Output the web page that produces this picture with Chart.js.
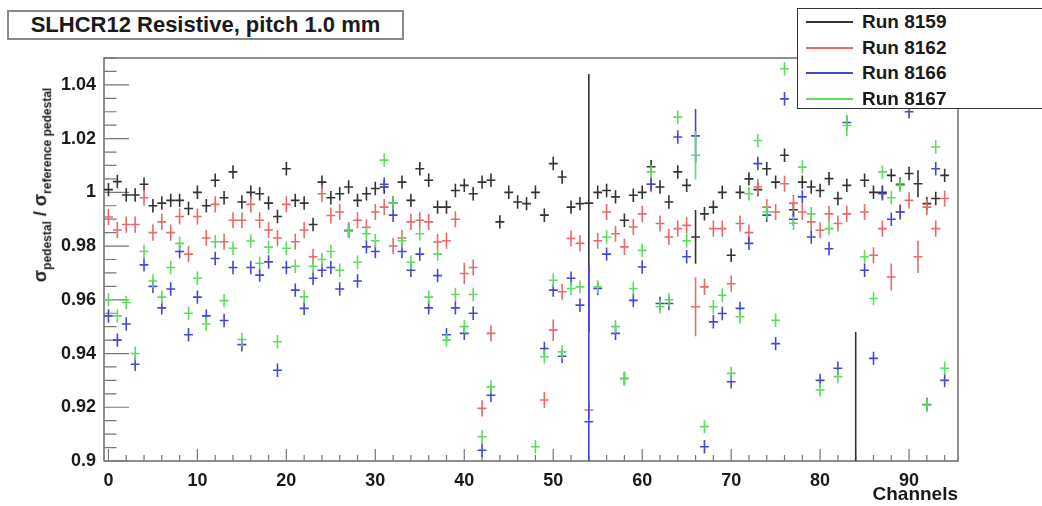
<!DOCTYPE html>
<html>
<head>
<meta charset="utf-8">
<script src="https://cdn.jsdelivr.net/npm/chart.js@4.4.1/dist/chart.umd.min.js"></script>
<style>
body{margin:0;background:#fff;font-family:"Liberation Sans",Arial,sans-serif;}
#wrap{position:relative;width:1042px;height:506px;overflow:hidden;}
#titre{position:absolute;left:7px;top:10px;width:393px;height:26px;border:2px solid #8a8a8a;background:#fff;
  font-weight:bold;font-size:22px;line-height:26px;text-align:center;color:#1a1a1a;white-space:nowrap;}
#legende{position:absolute;left:797px;top:8px;width:270px;height:99px;border:1.5px solid #333;background:#fff;}
.ligne{position:absolute;left:0;height:25px;width:270px;}
.ligne span.trait{position:absolute;left:8px;top:12px;width:47px;height:2px;}
.ligne span.nom{position:absolute;left:64px;top:0;font-weight:bold;font-size:19px;line-height:25px;color:#1a1a1a;}
#titreY{position:absolute;left:42px;top:185px;transform:translate(-50%,-50%) rotate(-90deg);white-space:nowrap;
  font-weight:bold;font-size:18px;color:#1a1a1a;}
#titreY sub{font-size:12px;}
</style>
</head>
<body>
<div id="wrap">
  <canvas id="graphe" width="1042" height="506"></canvas>
  <div id="titre">SLHCR12 Resistive, pitch 1.0 mm</div>
  <div id="titreY">&sigma;<sub>pedestal</sub> / &sigma;<sub>reference pedestal</sub></div>
  <div id="legende"></div>
</div>
<script>
// numeros des canaux
const canaux = Array.from({length: 95}, (_, i) => i);

// rapports sigma / sigma reference (null = hors cadre)
const run8159 = [1.001,1.004,0.999,0.999,1.003,0.995,0.996,0.997,0.997,0.994,
  1.000,0.995,1.0045,0.998,1.0076,0.9964,1.000,0.9995,0.996,0.991,
  1.0088,0.997,0.996,0.988,1.0038,0.998,0.9995,1.002,0.997,0.9995,
  1.0014,1.002,0.996,1.0038,0.997,1.0088,1.0045,0.9945,0.9945,1.0007,
  1.0026,0.9995,1.0038,1.0045,0.989,1.000,0.9964,0.9958,1.000,0.9915,
  1.0107,1.0057,0.9945,0.9958,0.996,1.000,1.0007,0.9983,0.9896,0.9989,
  1.000,1.0095,1.002,0.9964,1.0076,1.0026,0.9834,0.992,0.9945,1.000,
  0.9766,1.000,1.005,1.001,1.0088,1.0038,1.0138,0.9935,1.0038,1.002,
  1.0007,1.0051,0.9977,1.0026,0.89,1.0045,1.000,1.000,1.0063,1.003,
  1.007,1.0032,0.9958,0.9977,1.0063];
const run8162 = [0.9908,0.986,0.988,0.988,0.998,0.985,0.989,0.985,0.991,0.977,
  0.991,0.983,0.9955,0.9816,0.9896,0.9896,0.9955,0.9896,0.986,0.983,
  0.9955,0.9816,0.986,0.976,0.9995,0.9914,0.9927,0.986,0.9896,0.987,
  0.9927,0.9945,0.980,0.983,0.989,0.9896,0.989,0.9815,0.982,0.990,
  0.9698,0.972,0.9196,0.9475,null,null,null,null,null,0.9227,
  0.9487,0.963,0.9828,0.981,0.919,0.982,0.9927,0.9846,0.9797,0.9871,
  0.992,1.003,0.9884,0.9834,0.9865,0.9877,0.9574,0.9648,0.9865,0.9865,
  0.966,0.9884,0.985,1.002,0.9945,0.9927,1.0032,0.996,0.9927,0.989,
  0.9859,0.992,0.9884,0.992,null,0.9927,0.9766,0.9865,0.9685,0.9927,
  0.997,0.976,0.9945,0.9865,0.9977];
const run8166 = [0.954,0.945,0.951,0.936,0.973,0.965,0.957,0.964,0.978,0.947,
  0.961,0.954,0.9754,0.9523,0.972,0.9433,0.972,0.9692,0.9741,0.9338,
  0.972,0.9636,0.9568,0.968,0.971,0.972,0.964,0.9855,0.967,0.9797,
  0.978,1.003,0.9915,0.978,0.971,0.977,0.957,0.969,0.947,0.957,
  0.9475,0.955,0.904,0.9245,null,null,null,null,null,0.9419,
  0.9636,0.939,0.968,0.958,0.9146,0.9642,0.977,0.9475,0.9307,0.9598,
  0.9722,1.003,0.9586,0.9586,1.0206,0.976,1.021,0.9053,0.9518,0.9549,
  0.9295,0.9568,0.981,1.0107,0.9915,0.9437,1.0348,0.990,0.9983,0.9834,
  0.930,0.979,0.9345,1.026,null,0.971,0.9382,0.9995,0.990,0.9927,
  1.030,null,0.921,1.0088,0.930];
const run8167 = [0.960,0.954,0.959,0.940,0.978,0.967,0.961,0.972,0.981,0.955,
  0.968,0.951,0.9816,0.9597,0.9792,0.9452,0.9819,0.9736,0.9796,0.9444,
  0.9792,0.9725,0.9611,0.9725,0.975,0.978,0.971,0.9855,0.974,0.9846,
  0.982,1.012,0.996,0.982,0.974,0.9846,0.961,0.977,0.945,0.962,
  0.950,0.962,0.909,0.9276,null,null,null,null,0.9053,0.9388,
  0.9673,0.9406,0.9642,0.9648,null,0.9648,0.9834,0.950,0.9307,0.9642,
  0.9784,1.0076,0.9574,0.960,1.028,0.982,1.0138,0.9128,0.9574,0.9617,
  0.9326,0.9537,0.9995,1.0193,0.9927,0.9524,1.046,0.9885,1.0094,0.992,
  0.9264,0.9865,0.9314,1.0249,null,0.976,0.9605,1.0076,0.998,1.0026,
  null,null,0.9208,1.0169,0.9345];

// erreurs : valeur courante + exceptions par canal
const errCourante = {run8159: 0.0025, run8162: 0.003, run8166: 0.0025, run8167: 0.0025};
const err8159 = {54: 0.048, 66: 0.010, 84: 0.058, 91: 0.005};
const err8162 = {40: 0.004, 50: 0.004, 66: 0.011, 88: 0.005, 91: 0.006};
const err8166 = {54: 0.058, 66: 0.010};
const err8167 = {66: 0.009, 83: 0.004};

const nomsRuns = ['Run 8159', 'Run 8162', 'Run 8166', 'Run 8167'];
const couleurs = ['#333333', '#e86a6a', '#4646d6', '#5fdc5f'];

const yTicks = [0.90, 0.92, 0.94, 0.96, 0.98, 1.00, 1.02, 1.04];
const xTicks = [0, 10, 20, 30, 40, 50, 60, 70, 80, 90];

// construire les points {x, y, e}
const points = (valeurs, defaut, exceptions) =>
  canaux.map(c => ({x: c, y: valeurs[c], e: exceptions[c] !== undefined ? exceptions[c] : defaut}));

const datasets = [
  {label: nomsRuns[0], data: points(run8159, errCourante.run8159, err8159), borderColor: couleurs[0]},
  {label: nomsRuns[1], data: points(run8162, errCourante.run8162, err8162), borderColor: couleurs[1]},
  {label: nomsRuns[2], data: points(run8166, errCourante.run8166, err8166), borderColor: couleurs[2]},
  {label: nomsRuns[3], data: points(run8167, errCourante.run8167, err8167), borderColor: couleurs[3]}
];

// legende html
const legende = document.getElementById('legende');
nomsRuns.forEach((nom, i) => {
  legende.insertAdjacentHTML('beforeend',
    `<div class="ligne" style="top:${i * 25.5}px"><span class="trait" style="background:${couleurs[i]}"></span><span class="nom">${nom}</span></div>`);
});

// cadre et graduations a l'interieur, facon ROOT
const cadre = {
  id: 'cadre',
  beforeDatasetsDraw(chart) {
    const ctx = chart.ctx, a = chart.chartArea, xs = chart.scales.x, ys = chart.scales.y;
    ctx.save();
    ctx.strokeStyle = '#6a6a6a';
    ctx.lineWidth = 1.5;
    ctx.strokeRect(a.left, a.top, a.right - a.left, a.bottom - a.top);
    ctx.lineWidth = 1.2;
    ctx.strokeStyle = '#777';
    ctx.beginPath();
    for (let k = 0; k <= 30; k++) {
      const v = 0.9 + k * 0.005;
      const y = ys.getPixelForValue(v);
      const len = (k % 4 === 0) ? 25 : 12.5;
      ctx.moveTo(a.left, y); ctx.lineTo(a.left + len, y);
    }
    for (let c = 0; c <= 94; c += 2) {
      const x = xs.getPixelForValue(c);
      const len = (c % 10 === 0) ? 12 : 6;
      ctx.moveTo(x, a.bottom); ctx.lineTo(x, a.bottom - len);
    }
    ctx.stroke();
    ctx.restore();
  }
};

// croix : barre horizontale = largeur du canal, barre verticale = erreur
const croix = {
  id: 'croix',
  afterDatasetsDraw(chart) {
    const ctx = chart.ctx, a = chart.chartArea, xs = chart.scales.x, ys = chart.scales.y;
    ctx.save();
    ctx.beginPath();
    ctx.rect(a.left, a.top, a.right - a.left, a.bottom - a.top);
    ctx.clip();
    ctx.lineWidth = 1.6;
    chart.data.datasets.forEach(ds => {
      ctx.strokeStyle = ds.borderColor;
      ds.data.forEach(p => {
        if (p.y === null) return;
        const xg = xs.getPixelForValue(p.x - 0.5), xd = xs.getPixelForValue(p.x + 0.5), xc = xs.getPixelForValue(p.x);
        const yc = ys.getPixelForValue(p.y), yh = ys.getPixelForValue(p.y + p.e), yb = ys.getPixelForValue(p.y - p.e);
        ctx.beginPath();
        ctx.moveTo(xg, yc); ctx.lineTo(xd, yc);
        ctx.moveTo(xc, yh); ctx.lineTo(xc, yb);
        ctx.stroke();
      });
    });
    ctx.restore();
  }
};

const police = {family: '"Liberation Sans", Arial, sans-serif', weight: 'bold', size: 18};

new Chart(document.getElementById('graphe').getContext('2d'), {
  type: 'scatter',
  data: {datasets: datasets},
  options: {
    responsive: false,
    animation: false,
    events: [],
    elements: {point: {radius: 0, hoverRadius: 0}},
    layout: {padding: {top: 58, right: 84, left: 0, bottom: 0}},
    plugins: {legend: {display: false}, tooltip: {enabled: false}},
    scales: {
      x: {
        type: 'linear', min: -0.5, max: 95.5,
        grid: {display: false}, border: {display: false},
        afterFit: s => { s.height = 45; },
        afterBuildTicks: s => { s.ticks = xTicks.map(v => ({value: v})); },
        ticks: {font: police, color: '#1a1a1a', padding: 1, maxRotation: 0, autoSkip: false,
          callback: v => String(v)},
        title: {display: true, text: 'Channels', align: 'end', font: {family: police.family, weight: 'bold', size: 19},
          color: '#1a1a1a', padding: {top: 0, bottom: 0}}
      },
      y: {
        type: 'linear', min: 0.9, max: 1.05,
        grid: {display: false}, border: {display: false},
        afterFit: s => { s.width = 104; },
        afterBuildTicks: s => { s.ticks = yTicks.map(v => ({value: v})); },
        ticks: {font: police, color: '#1a1a1a', padding: 0, autoSkip: false,
          callback: v => String(+v.toFixed(2))}
      }
    }
  },
  plugins: [cadre, croix]
});
</script>
</body>
</html>
